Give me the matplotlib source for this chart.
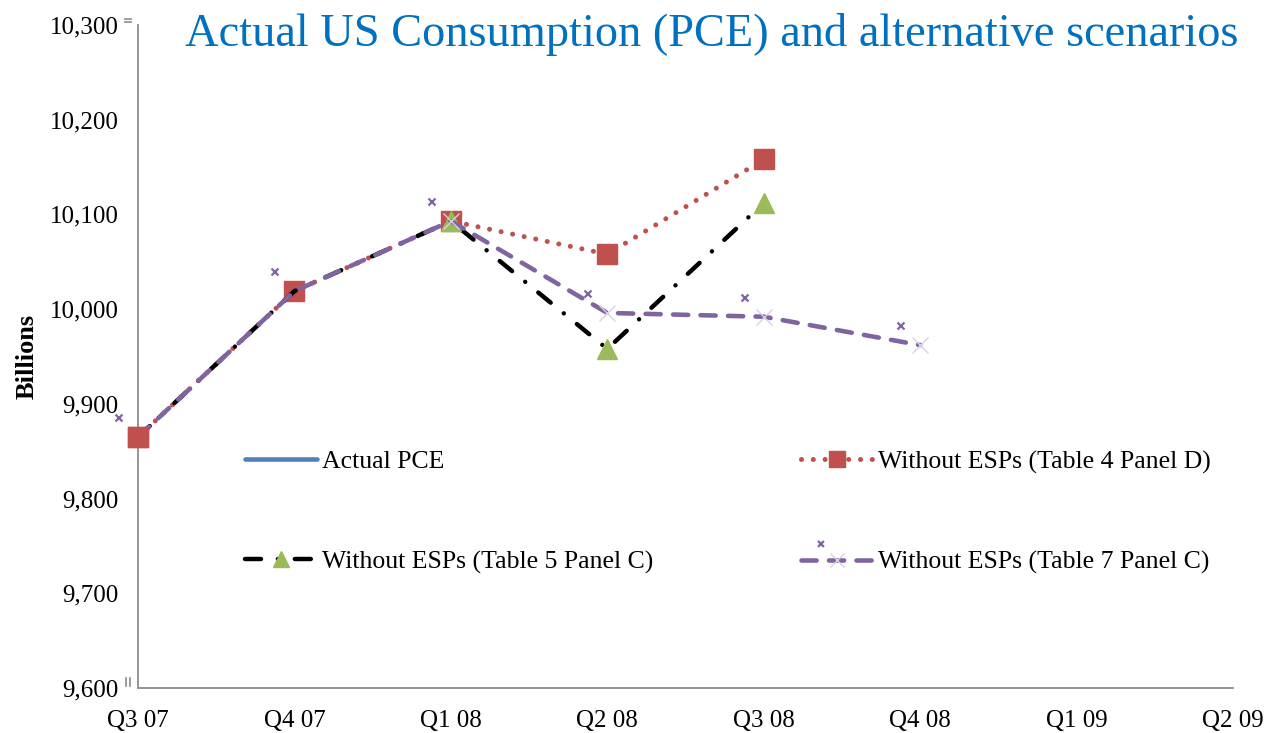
import numpy as np
import matplotlib
matplotlib.use("Agg")
import matplotlib.pyplot as plt
from matplotlib.path import Path
from matplotlib.markers import MarkerStyle
from matplotlib.ticker import FuncFormatter

# ---- data ----
quarters = ["Q3 07", "Q4 07", "Q1 08", "Q2 08", "Q3 08", "Q4 08", "Q1 09", "Q2 09"]
actual_pce = [np.nan] * 8  # not visible in chart (legend only)
table4_panelD = [9865, 10019, 10093, 10058, 10158, np.nan, np.nan, np.nan]
table5_panelC = [9865, 10019, 10093, 9958, 10112, np.nan, np.nan, np.nan]
table7_panelC = [9865, 10019, 10093, 9996, 9992, 9962, np.nan, np.nan]
yticks = [9600, 9700, 9800, 9900, 10000, 10100, 10200, 10300]

title = "Actual US Consumption (PCE) and alternative scenarios"
ylabel = "Billions"
labels = ["Actual PCE", "Without ESPs (Table 4 Panel D)",
          "Without ESPs (Table 5 Panel C)", "Without ESPs (Table 7 Panel C)"]

BLUE = "#4F81BD"
RED = "#C0504D"
GREEN = "#9BBB59"
PURPLE = "#8064A2"
SERIF = ["Liberation Serif", "DejaVu Serif"]

plt.rcParams["font.family"] = SERIF

fig = plt.figure(figsize=(12.72, 7.33), dpi=100)
ax = fig.add_axes([138 / 1272, 45 / 733, (1233 - 138) / 1272, (688 - 25) / 733])

x = np.arange(len(quarters))

# offset small "x" marker (up-left of the data point), as in the original
a, s = 19.5, 3.5
verts = [(-a - s, a - s), (-a + s, a + s), (-a - s, a + s), (-a + s, a - s)]
codes = [Path.MOVETO, Path.LINETO, Path.MOVETO, Path.LINETO]
offx = MarkerStyle(Path(verts, codes))
off_ms = 2 * (a + s) * 72 / 100

h_blue, = ax.plot(x, actual_pce, color=BLUE, lw=3.3, solid_capstyle="round")
h_blk, = ax.plot(x, table5_panelC, color="black", lw=3.2,
                 dashes=(3.6, 3.8, 0.01, 3.8), dash_capstyle="round",
                 marker="^", ms=14, mfc=GREEN, mec=GREEN, markevery=[2, 3, 4],
                 zorder=3.0, clip_on=False)
h_red, = ax.plot(x, table4_panelD, color=RED, lw=3.6, dashes=(0.01, 2.35),
                 dash_capstyle="round", marker="s", ms=14, mfc=RED, mec=RED,
                 zorder=2.9, clip_on=False)
h_pur, = ax.plot(x, table7_panelC, color=PURPLE, lw=3.3, dashes=(3.3, 2.7),
                 dash_capstyle="round", marker="x", ms=12, mec="#d9d0e8",
                 mew=1.0, markevery=[2, 3, 4, 5], zorder=3.4, clip_on=False)
h_pur2, = ax.plot(x, table7_panelC, ls="none", marker=offx, ms=off_ms,
                  mec=PURPLE, mfc="none", mew=1.6, zorder=3.5, clip_on=False)
# keep the first red square on top, as in the original
ax.plot(x[:1], table4_panelD[:1], ls="none", marker="s", ms=14, mfc=RED,
        mec=RED, zorder=3.45, clip_on=False)

ax.set_xlim(0, 7)
ax.set_ylim(9600, 10300)
ax.set_xticks(x)
ax.set_xticklabels(quarters)
ax.set_yticks(yticks)
ax.yaxis.set_major_formatter(FuncFormatter(lambda v, p: f"{int(v):,}"))
ax.tick_params(axis="both", length=0, labelsize=18)
ax.tick_params(axis="y", pad=14)
ax.tick_params(axis="x", pad=16)
for sp in ["top", "right"]:
    ax.spines[sp].set_visible(False)
for sp in ["left", "bottom"]:
    ax.spines[sp].set_color("#8c8c8c")
    ax.spines[sp].set_linewidth(1.3)

ax.set_ylabel(ylabel, fontsize=19, fontweight="bold", labelpad=8)

# small gray artifacts near the axis ends
for yy in (1.009, 1.0045):
    ax.plot([-0.0119, -0.0064], [yy, yy], transform=ax.transAxes,
            color="#8c8c8c", lw=1.2, clip_on=False)
for xx in (-0.011, -0.0073):
    ax.plot([xx, xx], [0.003, 0.015], transform=ax.transAxes,
            color="#8c8c8c", lw=1.2, clip_on=False)

fig.text(1238 / 1272, 1 - 35 / 733, title, color="#0070C0", fontsize=33.4,
         ha="right", va="center")

handles = [h_blue, h_blk, h_red, (h_pur, h_pur2)]
leg_labels = [labels[0], labels[2], labels[1], labels[3]]
leg = fig.legend(handles, leg_labels, ncol=2, loc="upper left",
                 bbox_to_anchor=(222 / 1272, 1 - 427 / 733), frameon=False,
                 fontsize=18.5, handlelength=2.8, handletextpad=0.2,
                 labelspacing=3.0, columnspacing=5.75, markerscale=0.85)

fig.savefig("out.png", dpi=100)
